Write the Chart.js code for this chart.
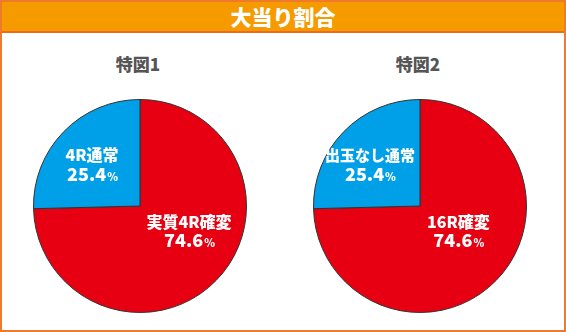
<!DOCTYPE html>
<html><head><meta charset="utf-8">
<script src="https://cdn.jsdelivr.net/npm/chart.js@4.4.1/dist/chart.umd.min.js"></script>
<style>
html,body{margin:0;padding:0;background:#fff;}
#wrap{position:relative;width:566px;height:332px;box-sizing:border-box;border:2px solid #f07a2c;overflow:hidden;font-family:"Noto Sans CJK JP","Noto Sans",sans-serif;}
#head{position:absolute;left:0;top:0;width:562px;height:29px;background:#f59b00;border-bottom:2px solid #ef6a1c;color:#fff;font-weight:900;font-size:21px;line-height:29px;text-align:center;}
.ttl{position:absolute;top:51px;width:160px;text-align:center;color:#555;font-weight:900;font-size:17px;line-height:22px;}
.cv{position:absolute;}
</style></head><body>
<div id="wrap">
<div id="head">大当り割合</div>
<div class="ttl" id="t1" style="left:56px"></div>
<div class="ttl" id="t2" style="left:336px"></div>
<canvas id="c1" class="cv" width="214" height="214" style="left:31px;top:97px"></canvas>
<canvas id="c2" class="cv" width="214" height="214" style="left:311px;top:97px"></canvas>
</div>
<script>
const chartTitles = ["特図1", "特図2"];
const labels1 = ["実質4R確変", "4R通常"];
const labels2 = ["16R確変", "出玉なし通常"];
const values1 = [74.6, 25.4];
const values2 = [74.6, 25.4];
const sliceColors = ["#e60012", "#00a0e9"];

document.getElementById('t1').textContent = chartTitles[0];
document.getElementById('t2').textContent = chartTitles[1];

// label placement as fraction of radius relative to pie center
const labelPlace1 = [{fx:0.46, fy:0.235, s:16}, {fx:-0.45, fy:-0.39, s:16}];
const labelPlace2 = [{fx:0.36, fy:0.235, s:16}, {fx:-0.47, fy:-0.39, s:15}];

function makeLabelPlugin(place) {
  return {
    id: 'sliceLabels',
    afterDatasetsDraw(chart) {
      const ctx = chart.ctx;
      const meta = chart.getDatasetMeta(0);
      const ds = chart.data.datasets[0];
      meta.data.forEach((arc, i) => {
        const r = arc.outerRadius;
        const p = place[i];
        const x = arc.x + p.fx * r;
        const y = arc.y + p.fy * r;
        ctx.save();
        ctx.fillStyle = '#fff';
        ctx.textBaseline = 'middle';
        ctx.textAlign = 'center';
        ctx.font = '900 ' + p.s + 'px "Noto Sans CJK JP", sans-serif';
        ctx.fillText(chart.data.labels[i], x, y - 9.5);
        const num = ds.data[i].toFixed(1);
        ctx.font = '900 18px "Noto Sans CJK JP", sans-serif';
        const w1 = ctx.measureText(num).width;
        ctx.font = '900 11px "Noto Sans CJK JP", sans-serif';
        const w2 = ctx.measureText('%').width;
        const sx = x - (w1 + w2) / 2;
        ctx.textAlign = 'left';
        ctx.font = '900 18px "Noto Sans CJK JP", sans-serif';
        ctx.fillText(num, sx, y + 9.5);
        ctx.font = '900 11px "Noto Sans CJK JP", sans-serif';
        ctx.fillText('%', sx + w1 + 1, y + 12);
        ctx.restore();
      });
    }
  };
}

function makePie(id, labels, values, place) {
  return new Chart(document.getElementById(id), {
    type: 'pie',
    data: { labels: labels, datasets: [{ data: values, backgroundColor: sliceColors, borderColor: '#333', borderWidth: 1 }] },
    options: {
      responsive: false,
      animation: false,
      layout: { padding: 0 },
      plugins: { legend: { display: false }, tooltip: { enabled: false } }
    },
    plugins: [makeLabelPlugin(place)]
  });
}
makePie('c1', labels1, values1, labelPlace1);
makePie('c2', labels2, values2, labelPlace2);
</script>
</body></html>
